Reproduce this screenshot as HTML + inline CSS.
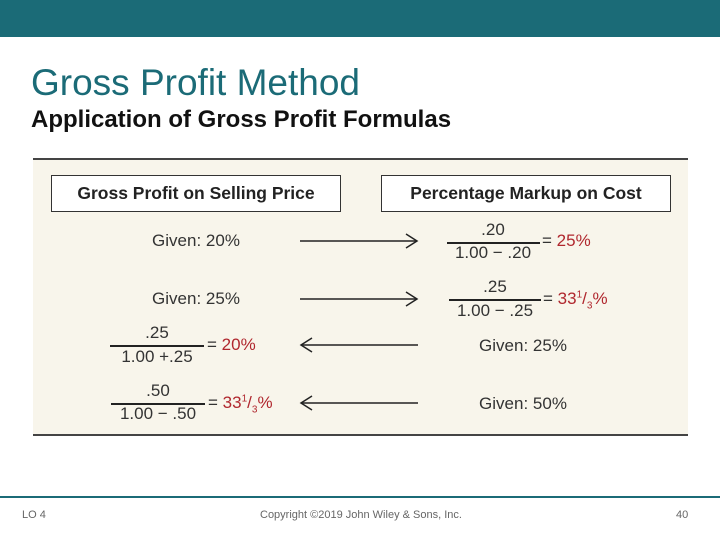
<!DOCTYPE html>
<html><head><meta charset="utf-8"><style>
body{margin:0;width:720px;height:540px;position:relative;background:#fff;font-family:"Liberation Sans",sans-serif;overflow:hidden}
.a{position:absolute;white-space:nowrap}
.c{transform:translate(-50%,-50%)}
.t{font-size:17px;color:#333}
.r{color:#b0272e}
.ln{position:absolute;height:1.5px;background:#222}
.f{font-size:17px;color:#333}
sup,sub{font-size:10px}
</style></head><body>
<div class="a" style="left:0;top:0;width:720px;height:37px;background:#1b6b77"></div>
<div class="a" style="left:31px;top:62px;font-size:37px;color:#1b6b77">Gross Profit Method</div>
<div class="a" style="left:31px;top:106px;font-size:24px;font-weight:bold;color:#111">Application of Gross Profit Formulas</div>
<div class="a" style="left:33px;top:158px;width:655px;height:274px;background:#f8f5eb;border-top:2px solid #444;border-bottom:2px solid #444"></div>
<div class="a" style="left:51px;top:175px;width:288px;height:35px;border:1.5px solid #333;background:#fff;font-weight:bold;font-size:17.5px;line-height:35px;text-align:center;color:#222">Gross Profit on Selling Price</div>
<div class="a" style="left:381px;top:175px;width:288px;height:35px;border:1.5px solid #333;background:#fff;font-weight:bold;font-size:17.5px;line-height:35px;text-align:center;color:#222">Percentage Markup on Cost</div>

<div class="a c t" style="left:196px;top:241px">Given: 20%</div>
<div class="a c t" style="left:196px;top:299px">Given: 25%</div>
<div class="a c t" style="left:523px;top:346px">Given: 25%</div>
<div class="a c t" style="left:523px;top:404px">Given: 50%</div>

<svg class="a" style="left:0;top:0" width="720" height="540">
<g stroke="#222" stroke-width="1.5" fill="none">
<line x1="300" y1="241" x2="417" y2="241"/><polyline points="406,234 417,241 406,248"/>
<line x1="300" y1="299" x2="417" y2="299"/><polyline points="406,292 417,299 406,306"/>
<line x1="301" y1="345" x2="418" y2="345"/><polyline points="312,338 301,345 312,352"/>
<line x1="301" y1="403" x2="418" y2="403"/><polyline points="312,396 301,403 312,410"/>
</g></svg>

<div class="a c f" style="left:493px;top:230px">.20</div>
<div class="ln" style="left:447px;top:242px;width:93px"></div>
<div class="a c f" style="left:493px;top:253px">1.00 − .20</div>
<div class="a t" style="left:542px;top:231px">= <span class="r">25%</span></div>

<div class="a c f" style="left:495px;top:287px">.25</div>
<div class="ln" style="left:449px;top:299px;width:92px"></div>
<div class="a c f" style="left:495px;top:311px">1.00 − .25</div>
<div class="a t" style="left:543px;top:289px">= <span class="r">33<sup>1</sup>/<sub>3</sub>%</span></div>

<div class="a c f" style="left:157px;top:333px">.25</div>
<div class="ln" style="left:110px;top:345px;width:94px"></div>
<div class="a c f" style="left:157px;top:357px">1.00 +.25</div>
<div class="a t" style="left:207px;top:335px">= <span class="r">20%</span></div>

<div class="a c f" style="left:158px;top:391px">.50</div>
<div class="ln" style="left:111px;top:403px;width:94px"></div>
<div class="a c f" style="left:158px;top:414px">1.00 − .50</div>
<div class="a t" style="left:208px;top:393px">= <span class="r">33<sup>1</sup>/<sub>3</sub>%</span></div>

<div class="a" style="left:0;top:496px;width:720px;height:2px;background:#1b6b77"></div>
<div class="a" style="left:22px;top:509px;font-size:11px;color:#666">LO 4</div>
<div class="a" style="left:260px;top:509px;font-size:11px;color:#666">Copyright ©2019 John Wiley &amp; Sons, Inc.</div>
<div class="a" style="left:676px;top:509px;font-size:11px;color:#666">40</div>
</body></html>
